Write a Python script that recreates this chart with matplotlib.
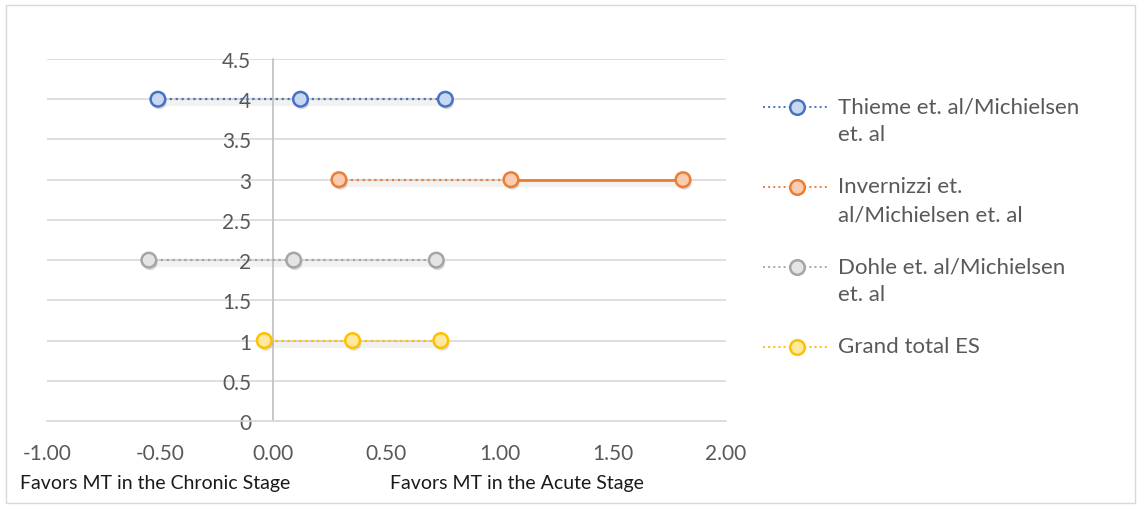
import matplotlib
import matplotlib.pyplot as plt
import matplotlib.patheffects as pe
import matplotlib.transforms as mtransforms
from matplotlib.lines import Line2D
from matplotlib.patches import Rectangle

matplotlib.use('Agg')

plt.rcParams['font.family'] = ['Lato', 'DejaVu Sans']

# data
series_names = ['Thieme et. al/Michielsen\net. al',
                'Invernizzi et.\nal/Michielsen et. al',
                'Dohle et. al/Michielsen\net. al',
                'Grand total ES']
series_y = [4, 3, 2, 1]
thieme_x = [-0.51, 0.12, 0.76]
invernizzi_x = [0.29, 1.05, 1.81]
dohle_x = [-0.55, 0.09, 0.72]
grand_x = [-0.04, 0.35, 0.74]
series_x = [thieme_x, invernizzi_x, dohle_x, grand_x]
# style of the two segments in each series (lower CI -> ES, ES -> upper CI)
segment_styles = [[':', ':'], [':', '-'], [':', ':'], [':', ':']]

edge_colors = ['#4472C4', '#ED7D31', '#A5A5A5', '#FFC000']
face_colors = ['#CAD7F3', '#FACDB2', '#E4E4E4', '#FFE8A0']

x_ticks = [-1.0, -0.5, 0.0, 0.5, 1.0, 1.5, 2.0]
y_ticks = [0, 0.5, 1, 1.5, 2, 2.5, 3, 3.5, 4, 4.5]
y_tick_labels = ['0', '0.5', '1', '1.5', '2', '2.5', '3', '3.5', '4', '4.5']

fig = plt.figure(figsize=(11.41, 5.10), dpi=100)
ax = fig.add_axes([47 / 1141, 1 - 422 / 510, 679 / 1141, 362 / 510])

shadow_tr = mtransforms.offset_copy(ax.transData, fig=fig, x=0.5, y=-3, units='dots')
marker_shadow = [pe.SimplePatchShadow(offset=(1, -2), alpha=0.2), pe.Normal()]

for xs, y, styles, ec, fc in zip(series_x, series_y, segment_styles, edge_colors, face_colors):
    # soft shadow under the line
    ax.plot([xs[0], xs[-1]], [y, y], color='#000000', alpha=0.05, linewidth=6,
            solid_capstyle='butt', transform=shadow_tr, zorder=2)
    for i in range(len(xs) - 1):
        lw = 2.0 if styles[i] == '-' else 1.6
        ax.plot(xs[i:i + 2], [y, y], linestyle=styles[i], color=ec, linewidth=lw, zorder=3)
    ax.plot(xs, [y] * len(xs), linestyle='none', marker='o', markersize=10.5,
            markerfacecolor=fc, markeredgecolor=ec, markeredgewidth=1.8, zorder=4,
            path_effects=marker_shadow)

ax.set_xlim(-1, 2)
ax.set_ylim(0, 4.5)
ax.set_xticks(x_ticks)
ax.set_xticklabels(['%.2f' % v for v in x_ticks])
ax.set_yticks(y_ticks)
ax.set_yticklabels(y_tick_labels)
ax.tick_params(axis='both', length=0, labelsize=15, labelcolor='#595959')
ax.tick_params(axis='x', pad=16)
ax.tick_params(axis='y', pad=16)

ax.grid(axis='y', color='#D9D9D9', linewidth=1.2)
ax.set_axisbelow(True)
for side in ['top', 'right']:
    ax.spines[side].set_visible(False)
ax.spines['left'].set_position(('data', 0))
ax.spines['left'].set_color('#BFBFBF')
ax.spines['left'].set_linewidth(1.2)
ax.spines['bottom'].set_color('#D9D9D9')
ax.spines['bottom'].set_linewidth(1.2)

# legend drawn by hand so the marker sits on the first line of each label
W, H = 1141, 510
for k, (name, ec, fc) in enumerate(zip(series_names, edge_colors, face_colors)):
    yp = 108 + 80 * k
    fig.add_artist(Line2D([763 / W, 830 / W], [1 - yp / H, 1 - yp / H], linestyle=':',
                          color=ec, linewidth=1.4))
    fig.add_artist(Line2D([797 / W], [1 - yp / H], marker='o', markersize=10.5,
                          markerfacecolor=fc, markeredgecolor=ec, markeredgewidth=1.8))
    fig.text(838 / W, 1 - (yp - 11) / H, name, fontsize=16, color='#595959',
             va='top', ha='left', linespacing=1.5)

fig.text(20 / W, 1 - 484 / H, 'Favors MT in the Chronic Stage', fontsize=14,
         color='#1a1a1a', va='center', ha='left')
fig.text(390 / W, 1 - 484 / H, 'Favors MT in the Acute Stage', fontsize=14,
         color='#1a1a1a', va='center', ha='left')

fig.add_artist(Rectangle((6 / W, 6 / H), 1129 / W, 498 / H, transform=fig.transFigure,
                         fill=False, edgecolor='#D9D9D9', linewidth=1))

fig.savefig('out.png', dpi=100)
plt.close()
